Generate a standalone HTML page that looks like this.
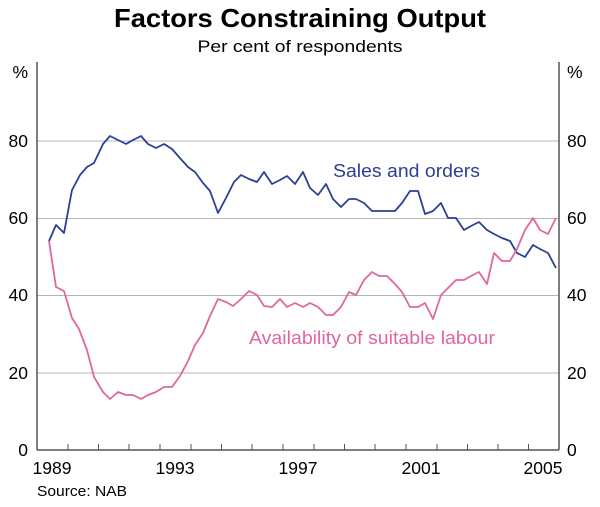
<!DOCTYPE html>
<html><head><meta charset="utf-8"><style>
html,body{margin:0;padding:0;background:#fff;}
svg{display:block;font-family:"Liberation Sans",Arial,sans-serif;}
</style></head><body>
<svg width="600" height="507" viewBox="0 0 600 507" xmlns="http://www.w3.org/2000/svg">
<text x="300" y="27" text-anchor="middle" font-size="26" font-weight="bold" fill="#000" textLength="372" lengthAdjust="spacingAndGlyphs">Factors Constraining Output</text>
<text x="300" y="52" text-anchor="middle" font-size="17" fill="#000" textLength="205" lengthAdjust="spacingAndGlyphs">Per cent of respondents</text>
<g stroke="#b4b4b4" stroke-width="1">
<line x1="37" y1="141" x2="559" y2="141"/>
<line x1="37" y1="218.5" x2="559" y2="218.5"/>
<line x1="37" y1="295.5" x2="559" y2="295.5"/>
<line x1="37" y1="373" x2="559" y2="373"/>
</g>
<g stroke="#555" stroke-width="1.5">
<line x1="37" y1="62" x2="37" y2="450"/>
<line x1="559" y1="62" x2="559" y2="450"/>
<line x1="37" y1="450" x2="559" y2="450"/>
</g>
<g stroke="#555" stroke-width="1">
<line x1="68" y1="444" x2="68" y2="450"/><line x1="98.5" y1="444" x2="98.5" y2="450"/><line x1="129" y1="444" x2="129" y2="450"/><line x1="160" y1="444" x2="160" y2="450"/><line x1="191" y1="444" x2="191" y2="450"/><line x1="221.5" y1="444" x2="221.5" y2="450"/><line x1="252" y1="444" x2="252" y2="450"/><line x1="283" y1="444" x2="283" y2="450"/><line x1="314" y1="444" x2="314" y2="450"/><line x1="344.5" y1="444" x2="344.5" y2="450"/><line x1="375" y1="444" x2="375" y2="450"/><line x1="406" y1="444" x2="406" y2="450"/><line x1="437" y1="444" x2="437" y2="450"/><line x1="467.5" y1="444" x2="467.5" y2="450"/><line x1="498" y1="444" x2="498" y2="450"/><line x1="528.5" y1="444" x2="528.5" y2="450"/>
</g>
<g font-size="17.5" fill="#000">
<text x="28" y="78" text-anchor="end">%</text>
<text x="28" y="147" text-anchor="end">80</text>
<text x="28" y="224" text-anchor="end">60</text>
<text x="28" y="301" text-anchor="end">40</text>
<text x="28" y="379" text-anchor="end">20</text>
<text x="28" y="456" text-anchor="end">0</text>
<text x="567" y="78">%</text>
<text x="567" y="147">80</text>
<text x="567" y="224">60</text>
<text x="567" y="301">40</text>
<text x="567" y="379">20</text>
<text x="567" y="456">0</text>
<text x="52" y="474" text-anchor="middle">1989</text>
<text x="175" y="474" text-anchor="middle">1993</text>
<text x="298" y="474" text-anchor="middle">1997</text>
<text x="421" y="474" text-anchor="middle">2001</text>
<text x="543" y="474" text-anchor="middle">2005</text>
</g>
<text x="37" y="496" font-size="15" fill="#000" textLength="90" lengthAdjust="spacingAndGlyphs">Source: NAB</text>
<polyline fill="none" stroke="#2b3f95" stroke-width="1.8" stroke-linejoin="round" points="49,241 56,225 64,233 72,190 80,175 87,167 94,163 103,144 110,136 118,140 126,144 133,140 141,136 148,144 156,148 164,144 172,149 179,157 188,167 195,172 203,183 210,191 218,213 226,198 234,182 241,175 249,179 257,182 264,172 272,184 280,180 287,176 295,184 303,172 310,188 318,195 326,184 333,199 341,207 349,199 356,199 364,203 372,211 379,211 387,211 395,211 402,203 410,191 418,191 425,214 433,211 441,203 448,218 456,218 464,230 471,226 479,222 487,230 494,234 502,238 510,241 517,253 525,257 533,245 540,249 548,253 556,268"/>
<polyline fill="none" stroke="#e0669f" stroke-width="1.8" stroke-linejoin="round" points="49,241 56,287 64,291 72,318 79,329 87,350 94,377 103,392 110,399 118,392 126,395 133,395 141,399 148,395 156,392 164,387 172,387 180,376 188,361 195,345 203,333 210,316 218,299 226,302 233,306 241,299 249,291 257,295 264,306 272,307 280,299 287,307 295,303 303,307 310,303 318,307 326,315 333,315 341,307 349,292 356,295 364,280 372,272 379,276 387,276 395,284 402,292 410,307 418,307 425,303 433,319 441,295 448,288 456,280 464,280 471,276 479,272 487,284 494,253 502,261 510,261 517,249 525,230 533,218 540,230 548,234 556,218"/>
<text x="333" y="177" font-size="18" fill="#2b3f95" textLength="147" lengthAdjust="spacingAndGlyphs">Sales and orders</text>
<text x="249" y="344" font-size="18" fill="#e0669f" textLength="246" lengthAdjust="spacingAndGlyphs">Availability of suitable labour</text>
</svg>
</body></html>
